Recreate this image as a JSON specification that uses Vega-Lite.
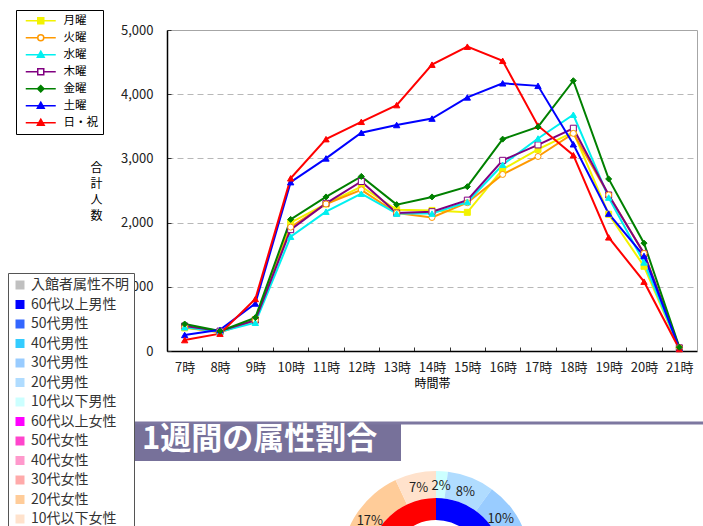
{
  "$schema": "https://vega.github.io/schema/vega-lite/v6.json",
  "padding": {"left": 7, "top": 9, "right": 0, "bottom": 0},
  "background": "white",
  "bounds": "flush",
  "spacing": 72,
  "config": {
    "view": {"stroke": null},
    "font": "Noto Sans CJK JP",
    "text": {"font": "Noto Sans CJK JP"}
  },
  "resolve": {
    "scale": {"color": "independent", "fill": "independent", "stroke": "independent", "shape": "independent", "theta": "independent"},
    "legend": {"color": "independent", "fill": "independent", "stroke": "independent", "shape": "independent"}
  },
  "vconcat": [
    {
      "width": 569,
      "height": 321,
      "data": {
        "values": [
          {"曜日": "月曜", "時間帯": "7時", "人数": 360}, {"曜日": "月曜", "時間帯": "8時", "人数": 300}, {"曜日": "月曜", "時間帯": "9時", "人数": 490}, {"曜日": "月曜", "時間帯": "10時", "人数": 2000}, {"曜日": "月曜", "時間帯": "11時", "人数": 2290}, {"曜日": "月曜", "時間帯": "12時", "人数": 2560}, {"曜日": "月曜", "時間帯": "13時", "人数": 2200}, {"曜日": "月曜", "時間帯": "14時", "人数": 2190}, {"曜日": "月曜", "時間帯": "15時", "人数": 2160}, {"曜日": "月曜", "時間帯": "16時", "人数": 2830}, {"曜日": "月曜", "時間帯": "17時", "人数": 3140}, {"曜日": "月曜", "時間帯": "18時", "人数": 3410}, {"曜日": "月曜", "時間帯": "19時", "人数": 2130}, {"曜日": "月曜", "時間帯": "20時", "人数": 1320}, {"曜日": "月曜", "時間帯": "21時", "人数": 40},
          {"曜日": "火曜", "時間帯": "7時", "人数": 370}, {"曜日": "火曜", "時間帯": "8時", "人数": 290}, {"曜日": "火曜", "時間帯": "9時", "人数": 480}, {"曜日": "火曜", "時間帯": "10時", "人数": 1930}, {"曜日": "火曜", "時間帯": "11時", "人数": 2290}, {"曜日": "火曜", "時間帯": "12時", "人数": 2510}, {"曜日": "火曜", "時間帯": "13時", "人数": 2150}, {"曜日": "火曜", "時間帯": "14時", "人数": 2080}, {"曜日": "火曜", "時間帯": "15時", "人数": 2310}, {"曜日": "火曜", "時間帯": "16時", "人数": 2750}, {"曜日": "火曜", "時間帯": "17時", "人数": 3030}, {"曜日": "火曜", "時間帯": "18時", "人数": 3390}, {"曜日": "火曜", "時間帯": "19時", "人数": 2430}, {"曜日": "火曜", "時間帯": "20時", "人数": 1520}, {"曜日": "火曜", "時間帯": "21時", "人数": 50},
          {"曜日": "水曜", "時間帯": "7時", "人数": 370}, {"曜日": "水曜", "時間帯": "8時", "人数": 300}, {"曜日": "水曜", "時間帯": "9時", "人数": 440}, {"曜日": "水曜", "時間帯": "10時", "人数": 1780}, {"曜日": "水曜", "時間帯": "11時", "人数": 2170}, {"曜日": "水曜", "時間帯": "12時", "人数": 2450}, {"曜日": "水曜", "時間帯": "13時", "人数": 2140}, {"曜日": "水曜", "時間帯": "14時", "人数": 2140}, {"曜日": "水曜", "時間帯": "15時", "人数": 2320}, {"曜日": "水曜", "時間帯": "16時", "人数": 2900}, {"曜日": "水曜", "時間帯": "17時", "人数": 3310}, {"曜日": "水曜", "時間帯": "18時", "人数": 3680}, {"曜日": "水曜", "時間帯": "19時", "人数": 2390}, {"曜日": "水曜", "時間帯": "20時", "人数": 1380}, {"曜日": "水曜", "時間帯": "21時", "人数": 40},
          {"曜日": "木曜", "時間帯": "7時", "人数": 390}, {"曜日": "木曜", "時間帯": "8時", "人数": 310}, {"曜日": "木曜", "時間帯": "9時", "人数": 480}, {"曜日": "木曜", "時間帯": "10時", "人数": 1890}, {"曜日": "木曜", "時間帯": "11時", "人数": 2300}, {"曜日": "木曜", "時間帯": "12時", "人数": 2640}, {"曜日": "木曜", "時間帯": "13時", "人数": 2150}, {"曜日": "木曜", "時間帯": "14時", "人数": 2170}, {"曜日": "木曜", "時間帯": "15時", "人数": 2350}, {"曜日": "木曜", "時間帯": "16時", "人数": 2970}, {"曜日": "木曜", "時間帯": "17時", "人数": 3210}, {"曜日": "木曜", "時間帯": "18時", "人数": 3470}, {"曜日": "木曜", "時間帯": "19時", "人数": 2430}, {"曜日": "木曜", "時間帯": "20時", "人数": 1520}, {"曜日": "木曜", "時間帯": "21時", "人数": 50},
          {"曜日": "金曜", "時間帯": "7時", "人数": 420}, {"曜日": "金曜", "時間帯": "8時", "人数": 310}, {"曜日": "金曜", "時間帯": "9時", "人数": 520}, {"曜日": "金曜", "時間帯": "10時", "人数": 2050}, {"曜日": "金曜", "時間帯": "11時", "人数": 2400}, {"曜日": "金曜", "時間帯": "12時", "人数": 2720}, {"曜日": "金曜", "時間帯": "13時", "人数": 2280}, {"曜日": "金曜", "時間帯": "14時", "人数": 2400}, {"曜日": "金曜", "時間帯": "15時", "人数": 2560}, {"曜日": "金曜", "時間帯": "16時", "人数": 3300}, {"曜日": "金曜", "時間帯": "17時", "人数": 3490}, {"曜日": "金曜", "時間帯": "18時", "人数": 4210}, {"曜日": "金曜", "時間帯": "19時", "人数": 2680}, {"曜日": "金曜", "時間帯": "20時", "人数": 1680}, {"曜日": "金曜", "時間帯": "21時", "人数": 60},
          {"曜日": "土曜", "時間帯": "7時", "人数": 250}, {"曜日": "土曜", "時間帯": "8時", "人数": 330}, {"曜日": "土曜", "時間帯": "9時", "人数": 740}, {"曜日": "土曜", "時間帯": "10時", "人数": 2630}, {"曜日": "土曜", "時間帯": "11時", "人数": 3000}, {"曜日": "土曜", "時間帯": "12時", "人数": 3400}, {"曜日": "土曜", "時間帯": "13時", "人数": 3520}, {"曜日": "土曜", "時間帯": "14時", "人数": 3620}, {"曜日": "土曜", "時間帯": "15時", "人数": 3950}, {"曜日": "土曜", "時間帯": "16時", "人数": 4170}, {"曜日": "土曜", "時間帯": "17時", "人数": 4130}, {"曜日": "土曜", "時間帯": "18時", "人数": 3220}, {"曜日": "土曜", "時間帯": "19時", "人数": 2140}, {"曜日": "土曜", "時間帯": "20時", "人数": 1480}, {"曜日": "土曜", "時間帯": "21時", "人数": 40},
          {"曜日": "日・祝", "時間帯": "7時", "人数": 170}, {"曜日": "日・祝", "時間帯": "8時", "人数": 270}, {"曜日": "日・祝", "時間帯": "9時", "人数": 810}, {"曜日": "日・祝", "時間帯": "10時", "人数": 2690}, {"曜日": "日・祝", "時間帯": "11時", "人数": 3300}, {"曜日": "日・祝", "時間帯": "12時", "人数": 3570}, {"曜日": "日・祝", "時間帯": "13時", "人数": 3830}, {"曜日": "日・祝", "時間帯": "14時", "人数": 4460}, {"曜日": "日・祝", "時間帯": "15時", "人数": 4740}, {"曜日": "日・祝", "時間帯": "16時", "人数": 4520}, {"曜日": "日・祝", "時間帯": "17時", "人数": 3510}, {"曜日": "日・祝", "時間帯": "18時", "人数": 3050}, {"曜日": "日・祝", "時間帯": "19時", "人数": 1770}, {"曜日": "日・祝", "時間帯": "20時", "人数": 1080}, {"曜日": "日・祝", "時間帯": "21時", "人数": 30}
        ]
      },
      "resolve": {"axis": {"x": "independent", "y": "independent"}},
      "layer": [
        {
          "mark": {"type": "line", "strokeWidth": 2},
          "encoding": {
            "x": {
              "field": "時間帯", "type": "ordinal",
              "sort": ["7時", "8時", "9時", "10時", "11時", "12時", "13時", "14時", "15時", "16時", "17時", "18時", "19時", "20時", "21時"],
              "scale": {"type": "band", "paddingInner": 0, "paddingOuter": 0, "range": [39, 569]},
              "axis": {
                "title": "時間帯", "titleFontSize": 12, "titleFontWeight": "normal", "titleColor": "#000", "titlePadding": 4,
                "titleX": 304,
                "labelAngle": 0, "labelFontSize": 13, "labelColor": "#222", "labelPadding": 14,
                "tickBand": "extent", "tickSize": -4, "tickColor": "#333",
                "domainColor": "#000", "domainWidth": 1.5, "grid": false
              }
            },
            "y": {
              "field": "人数", "type": "quantitative",
              "scale": {"domain": [0, 5000]},
              "axis": {
                "offset": -39,
                "title": ["合", "計", "人", "数"], "titleAngle": 0, "titleX": -71, "titleY": 132,
                "titleBaseline": "top", "titleAlign": "center", "titleFontSize": 12, "titleFontWeight": "normal",
                "titleLineHeight": 16.3, "titleColor": "#000",
                "labelFontSize": 13, "labelColor": "#222", "labelPadding": 18, "format": ",d",
                "values": [0, 1000, 2000, 3000, 4000, 5000],
                "tickSize": -4, "tickColor": "#333", "domainColor": "#000", "domainWidth": 1.5,
                "grid": true, "gridDash": [6, 4], "gridColor": "#b8b8b8"
              }
            },
            "stroke": {
              "field": "曜日", "type": "nominal",
              "scale": {"domain": ["月曜", "火曜", "水曜", "木曜", "金曜", "土曜", "日・祝"], "range": ["#f2f200", "#ff9900", "#00f0f0", "#800080", "#008000", "#0000ff", "#ff0000"]}
            }
          }
        },
        {
          "transform": [{"filter": {"field": "曜日", "oneOf": ["月曜", "木曜"]}}],
          "mark": {"type": "point", "shape": "square", "size": 36, "opacity": 1, "strokeWidth": 1},
          "encoding": {
            "x": {
              "field": "時間帯", "type": "ordinal",
              "sort": ["7時", "8時", "9時", "10時", "11時", "12時", "13時", "14時", "15時", "16時", "17時", "18時", "19時", "20時", "21時"],
              "axis": {"orient": "top", "labels": false, "ticks": false, "title": null, "grid": false, "domainColor": "#a6a6a6", "domainWidth": 1}
            },
            "y": {
              "field": "人数", "type": "quantitative",
              "axis": {"orient": "right", "labels": false, "ticks": false, "title": null, "grid": false, "domainColor": "#a6a6a6", "domainWidth": 1}
            },
            "stroke": {"field": "曜日", "type": "nominal"},
            "fill": {
              "field": "曜日", "type": "nominal",
              "scale": {"domain": ["月曜", "火曜", "水曜", "木曜", "金曜", "土曜", "日・祝"], "range": ["#f2f200", "#ffffff", "#00f0f0", "#ffffff", "#008000", "#0000ff", "#ff0000"]}
            }
          }
        },
        {
          "transform": [{"filter": {"field": "曜日", "oneOf": ["火曜"]}}],
          "mark": {"type": "point", "shape": "circle", "size": 36, "opacity": 1, "strokeWidth": 1},
          "encoding": {
            "x": {"field": "時間帯", "type": "ordinal", "sort": ["7時", "8時", "9時", "10時", "11時", "12時", "13時", "14時", "15時", "16時", "17時", "18時", "19時", "20時", "21時"], "axis": null},
            "y": {"field": "人数", "type": "quantitative", "axis": null},
            "stroke": {"field": "曜日", "type": "nominal"},
            "fill": {"field": "曜日", "type": "nominal"}
          }
        },
        {
          "transform": [{"filter": {"field": "曜日", "oneOf": ["水曜", "土曜", "日・祝"]}}],
          "mark": {"type": "point", "shape": "triangle-up", "size": 40, "opacity": 1, "strokeWidth": 1},
          "encoding": {
            "x": {"field": "時間帯", "type": "ordinal", "sort": ["7時", "8時", "9時", "10時", "11時", "12時", "13時", "14時", "15時", "16時", "17時", "18時", "19時", "20時", "21時"], "axis": null},
            "y": {"field": "人数", "type": "quantitative", "axis": null},
            "stroke": {"field": "曜日", "type": "nominal"},
            "fill": {"field": "曜日", "type": "nominal"}
          }
        },
        {
          "transform": [{"filter": {"field": "曜日", "oneOf": ["金曜"]}}],
          "mark": {"type": "point", "shape": "diamond", "size": 36, "opacity": 1, "strokeWidth": 1},
          "encoding": {
            "x": {"field": "時間帯", "type": "ordinal", "sort": ["7時", "8時", "9時", "10時", "11時", "12時", "13時", "14時", "15時", "16時", "17時", "18時", "19時", "20時", "21時"], "axis": null},
            "y": {"field": "人数", "type": "quantitative", "axis": null},
            "stroke": {"field": "曜日", "type": "nominal"},
            "fill": {"field": "曜日", "type": "nominal"}
          }
        },
        {
          "data": {"values": []},
          "mark": {"type": "point", "opacity": 1, "strokeWidth": 1.5},
          "encoding": {
            "stroke": {
              "field": "曜日", "type": "nominal",
              "legend": {
                "orient": "none", "legendX": -112, "legendY": -20, "title": null,
                "strokeColor": "#000", "fillColor": "white", "padding": 5,
                "symbolSize": 64, "symbolStrokeWidth": 1.5, "rowPadding": 4.0,
                "labelFontSize": 11.5, "labelColor": "#000", "labelOffset": 31
              }
            },
            "fill": {
              "field": "曜日", "type": "nominal",
              "legend": {
                "orient": "none", "legendX": -112, "legendY": -20, "title": null,
                "strokeColor": "#000", "fillColor": "white", "padding": 5,
                "symbolSize": 64, "symbolStrokeWidth": 1.5, "rowPadding": 4.0,
                "labelFontSize": 11.5, "labelColor": "#000", "labelOffset": 31
              }
            },
            "shape": {
              "field": "曜日", "type": "nominal",
              "scale": {
                "domain": ["月曜", "火曜", "水曜", "木曜", "金曜", "土曜", "日・祝"],
                "range": [
                  "M-0.25,0H7.25M2.75,-0.75H4.25V0.75H2.75Z",
                  "M-0.25,0H2.75M4.25,0H7.25M2.75,0A0.75,0.75,0,1,1,4.25,0A0.75,0.75,0,1,1,2.75,0Z",
                  "M-0.25,0H7.25M3.5,-0.9L4.35,0.6H2.65Z",
                  "M-0.25,0H2.75M4.25,0H7.25M2.75,-0.75H4.25V0.75H2.75Z",
                  "M-0.25,0H7.25M3.5,-0.8L4.3,0L3.5,0.8L2.7,0Z",
                  "M-0.25,0H7.25M3.5,-0.9L4.35,0.6H2.65Z",
                  "M-0.25,0H7.25M3.5,-0.9L4.35,0.6H2.65Z"
                ]
              },
              "legend": {
                "orient": "none", "legendX": -112, "legendY": -20, "title": null,
                "strokeColor": "#000", "fillColor": "white", "padding": 5,
                "symbolSize": 64, "symbolStrokeWidth": 1.5, "rowPadding": 4.0,
                "labelFontSize": 11.5, "labelColor": "#000", "labelOffset": 31
              }
            }
          }
        }
      ]
    },
    {
      "width": 576,
      "height": 38,
      "view": {
        "fill": {"gradient": "linear", "x1": 0, "x2": 1, "y1": 0, "y2": 0, "stops": [{"offset": 0, "color": "#77719a"}, {"offset": 0.474, "color": "#77719a"}, {"offset": 0.4741, "color": "#ffffff"}, {"offset": 1, "color": "#ffffff"}]},
        "stroke": "#7d77a0", "strokeWidth": 3, "strokeDash": [576, 3000]
      },
      "title": {"text": "1週間の属性割合", "anchor": "start", "frame": "group", "orient": "top", "offset": -19, "baseline": "middle", "dx": 14, "dy": 29, "color": "white", "fontSize": 31, "fontWeight": "bold", "font": "Noto Sans CJK JP"},
      "data": {"values": [{}]},
      "mark": {"type": "text"},
      "encoding": {"text": {"value": ""}}
    },
    {
      "width": 616,
      "height": 66,
      "data": {
        "values": [
          {"順": 1, "属性": "10代以下男性", "割合": 0.02},
          {"順": 2, "属性": "20代男性", "割合": 0.08},
          {"順": 3, "属性": "30代男性", "割合": 0.10},
          {"順": 4, "属性": "40代男性", "割合": 0.08},
          {"順": 5, "属性": "50代男性", "割合": 0.05},
          {"順": 6, "属性": "60代以上男性", "割合": 0.10},
          {"順": 7, "属性": "入館者属性不明", "割合": 0.02},
          {"順": 8, "属性": "60代以上女性", "割合": 0.08},
          {"順": 9, "属性": "50代女性", "割合": 0.05},
          {"順": 10, "属性": "40代女性", "割合": 0.09},
          {"順": 11, "属性": "30代女性", "割合": 0.09},
          {"順": 12, "属性": "20代女性", "割合": 0.17},
          {"順": 13, "属性": "10代以下女性", "割合": 0.07}
        ]
      },
      "layer": [
        {
          "mark": {"type": "arc", "radius": 95, "radius2": 68},
          "encoding": {
            "theta": {"field": "割合", "type": "quantitative", "stack": true},
            "order": {"field": "順", "type": "quantitative"},
            "color": {
              "field": "属性", "type": "nominal",
              "scale": {
                "domain": ["入館者属性不明", "60代以上男性", "50代男性", "40代男性", "30代男性", "20代男性", "10代以下男性", "60代以上女性", "50代女性", "40代女性", "30代女性", "20代女性", "10代以下女性"],
                "range": ["#c0c0c0", "#0000ff", "#3366ff", "#33ccff", "#99ccff", "#b0dcff", "#ccffff", "#ff00ff", "#ff44cc", "#ff99cc", "#ffaaaa", "#ffcc99", "#ffe2cc"]
              },
              "legend": {
                "orient": "none", "legendX": -120, "legendY": -260, "title": null,
                "strokeColor": "#555", "fillColor": "white", "padding": 5,
                "symbolType": "square", "symbolSize": 81, "symbolStrokeWidth": 0,
                "labelFontSize": 14, "labelColor": "#333", "labelOffset": 4, "labelLimit": 200,
                "rowPadding": 5.5
              }
            }
          }
        },
        {
          "data": {
            "values": [
              {"順": 1, "性別": "男性", "割合": 0.43},
              {"順": 2, "性別": "不明", "割合": 0.02},
              {"順": 3, "性別": "女性", "割合": 0.55}
            ]
          },
          "mark": {"type": "arc", "radius": 68, "radius2": 46},
          "encoding": {
            "theta": {"field": "割合", "type": "quantitative", "stack": true},
            "order": {"field": "順", "type": "quantitative"},
            "fill": {
              "field": "性別", "type": "nominal",
              "scale": {"domain": ["男性", "不明", "女性"], "range": ["#0000ff", "#c0c0c0", "#ff0000"]},
              "legend": null
            }
          }
        },
        {
          "mark": {"type": "text", "radius": 80, "fontSize": 13, "color": "#222"},
          "encoding": {
            "theta": {"field": "割合", "type": "quantitative", "stack": true},
            "order": {"field": "順", "type": "quantitative"},
            "detail": {"field": "属性", "type": "nominal"},
            "text": {"field": "割合", "type": "quantitative", "format": ".0%"}
          }
        }
      ]
    }
  ]
}
